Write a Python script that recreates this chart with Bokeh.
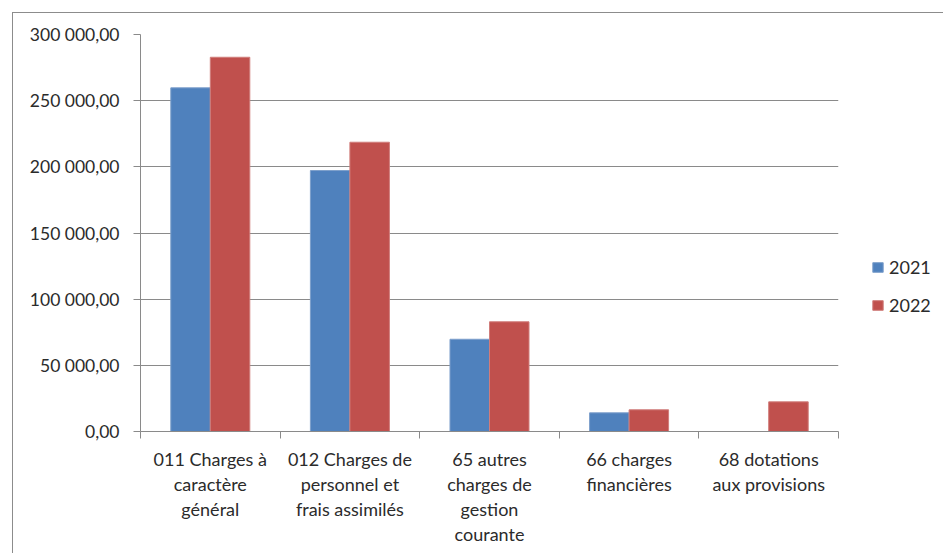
from bokeh.plotting import figure
from bokeh.models import FixedTicker, Legend, LegendItem, ColumnDataSource
from bokeh.transform import dodge
from bokeh.embed import file_html
from bokeh.resources import INLINE

categories = ["011 Charges à\ncaractère\ngénéral",
              "012 Charges de\npersonnel et\nfrais assimilés",
              "65 autres\ncharges de\ngestion\ncourante",
              "66 charges\nfinancières",
              "68 dotations\naux provisions"]
series_names = ["2021", "2022"]
values_2021 = [259700, 197200, 69700, 14100, 0]
values_2022 = [282800, 218600, 82900, 16400, 22400]
y_ticks = [0, 50000, 100000, 150000, 200000, 250000, 300000]
y_labels = ["0,00", "50 000,00", "100 000,00", "150 000,00",
            "200 000,00", "250 000,00", "300 000,00"]

FONT = "Lato"
TXT = "#2b2b2b"
GRID = "#8a8a8a"

centers = [i + 0.5 for i in range(len(categories))]
src = ColumnDataSource(dict(x=centers, a=values_2021, b=values_2022))

p = figure(output_backend="svg", toolbar_location=None,
           frame_width=698, frame_height=397,
           min_border_left=127, min_border_top=21,
           min_border_right=105, min_border_bottom=122,
           x_range=(0, len(categories)), y_range=(0, 300000),
           styles={"margin-left": "12px", "margin-top": "12px",
                   "border-left": "1px solid #8c8c8c",
                   "border-top": "1px solid #8c8c8c"})
p.outline_line_color = None
p.background_fill_color = "white"
p.border_fill_color = "white"

bw = 0.283
r1 = p.vbar(x=dodge("x", -bw / 2, range=p.x_range), top="a", width=bw, source=src,
            fill_color="#4F81BD", line_color="#7d9fcb", line_width=1)
r2 = p.vbar(x=dodge("x", bw / 2, range=p.x_range), top="b", width=bw, source=src,
            fill_color="#C0504D", line_color="#d07d7b", line_width=1)

# y axis
p.yaxis.ticker = FixedTicker(ticks=y_ticks, minor_ticks=[])
p.yaxis.major_label_overrides = dict(zip(y_ticks, y_labels))
p.yaxis.axis_line_color = GRID
p.yaxis.major_tick_line_color = GRID
p.yaxis.major_tick_out = 7
p.yaxis.major_tick_in = 0
p.yaxis.major_label_standoff = 14
p.yaxis.major_label_text_font = FONT
p.yaxis.major_label_text_font_size = "17.5px"
p.yaxis.major_label_text_color = TXT

# x axis: labels at centers, tick marks at boundaries
p.xaxis.ticker = FixedTicker(ticks=centers, minor_ticks=list(range(len(categories) + 1)))
p.xaxis.major_label_overrides = dict(zip(centers, categories))
p.xaxis.axis_line_color = GRID
p.xaxis.major_tick_out = 0
p.xaxis.major_tick_in = 0
p.xaxis.minor_tick_out = 7
p.xaxis.minor_tick_in = 0
p.xaxis.minor_tick_line_color = GRID
p.xaxis.major_label_standoff = 9
p.xaxis.major_label_text_font = FONT
p.xaxis.major_label_text_font_size = "18px"
p.xaxis.major_label_text_color = TXT
p.xaxis.major_label_text_line_height = 1.15
p.xaxis.major_label_orientation = "horizontal"

p.xgrid.grid_line_color = None
p.ygrid.grid_line_color = GRID
p.ygrid.grid_line_width = 1

legend = Legend(items=[LegendItem(label=series_names[0], renderers=[r1]),
                       LegendItem(label=series_names[1], renderers=[r2])],
                location=(33, 115), border_line_color=None,
                background_fill_alpha=0,
                glyph_width=13, glyph_height=12, label_standoff=5,
                spacing=16, margin=0, padding=10,
                label_text_font=FONT, label_text_font_size="18px",
                label_text_color=TXT)
p.add_layout(legend, "right")

open("out.html", "w").write(file_html(p, INLINE))
